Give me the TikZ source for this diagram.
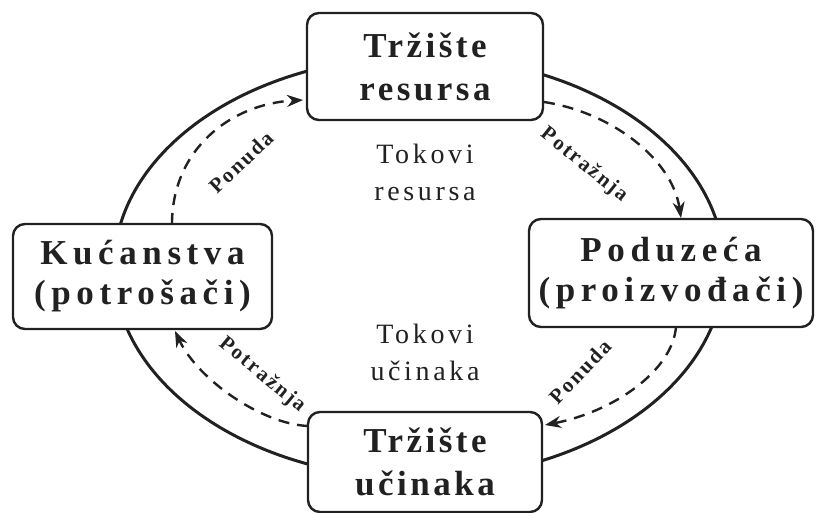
\documentclass[tikz,border=0pt]{standalone}
\usepackage{fontspec}
\setmainfont{Liberation Serif}
\newfontfamily\boxTB{Liberation Serif}[LetterSpace=10]
\newfontfamily\boxLR{Liberation Serif}[LetterSpace=16]
\newfontfamily\midfont{Liberation Serif}[LetterSpace=13]
\newfontfamily\lblfont{Liberation Serif}[LetterSpace=10]
\usetikzlibrary{arrows.meta}
\definecolor{ink}{gray}{0.13}
\begin{document}
\begin{tikzpicture}[x=1pt,y=-1pt,
  box/.style={draw=ink, line width=2.4pt, rounded corners=12pt, fill=white,
    align=center, inner sep=0pt, text=ink},
  tbtext/.style={font=\boxTB\bfseries\fontsize{35}{43}\selectfont},
  lrtext/.style={font=\boxLR\bfseries\fontsize{35}{40}\selectfont},
  midtext/.style={font=\midfont\fontsize{28}{37}\selectfont, align=center, text=ink},
  lbl/.style={font=\lblfont\bfseries\fontsize{21}{21}\selectfont, text=ink, inner sep=0pt},
  flow/.style={draw=ink, line width=2.4pt, dash pattern=on 11pt off 8pt,
    -{Stealth[length=16pt,width=12pt]}}
]
\useasboundingbox (0,0) rectangle (816,513);
\fill[white] (0,0) rectangle (816,513);
% ellipse
\draw[ink, line width=3pt] (419,267.5) ellipse [x radius=305, y radius=211];
% boxes
\node[box, tbtext, minimum width=236pt, minimum height=107pt] (res) at (425,66.5) {Tržište\\resursa};
\node[box, lrtext, minimum width=259pt, minimum height=105pt] (hh) at (142.5,276.5) {Kućanstva\\(potrošači)};
\node[box, lrtext, minimum width=284pt, minimum height=108pt] (firm) at (671,273) {Poduzeća\\(proizvođači)};
\node[box, tbtext, minimum width=234pt, minimum height=100pt] (outm) at (425,462) {Tržište\\učinaka};
% centre texts
\node[midtext] (tr) at (425,172) {Tokovi\\resursa};
\node[midtext] (tu) at (425,352) {Tokovi\\učinaka};
% flow endpoints
\coordinate (a1s) at (172,224);
\coordinate (a1e) at (303,100);
\coordinate (a2s) at (544,102);
\coordinate (a2e) at (681,218);
\coordinate (a3s) at (676,327);
\coordinate (a3e) at (545,425);
\coordinate (a4s) at (308,426);
\coordinate (a4e) at (175,331);
% flows
\draw[flow] (a1s) .. controls (172,150) and (230,104) .. (a1e);
\draw[flow] (a2s) .. controls (610,112) and (672,158) .. (a2e);
\draw[flow] (a3s) .. controls (672,372) and (612,412) .. (a3e);
\draw[flow] (a4s) .. controls (262,424) and (198,380) .. (a4e);
% labels
\node[lbl, rotate=43.5] (l1) at (241,162) {Ponuda};
\node[lbl, rotate=-38.8] (l2) at (584,165) {Potražnja};
\node[lbl, rotate=-39.5] (l3) at (262,375) {Potražnja};
\node[lbl, rotate=46.5] (l4) at (580,372) {Ponuda};
\end{tikzpicture}
\end{document}
